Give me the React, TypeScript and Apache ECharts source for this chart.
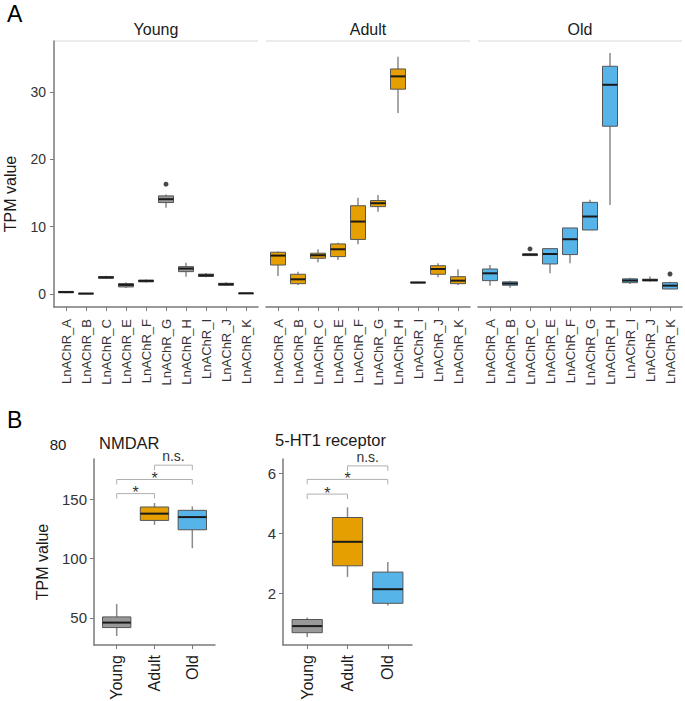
import React, { useEffect, useRef } from "react";
import * as echarts from "echarts";

const geneCats = ["LnAChR_A", "LnAChR_B", "LnAChR_C", "LnAChR_E", "LnAChR_F", "LnAChR_G", "LnAChR_H", "LnAChR_I", "LnAChR_J", "LnAChR_K"];
const ageCats = ["Young", "Adult", "Old"];
const panelTitles = ["Young", "Adult", "Old"];

// [low whisker, Q1, median, Q3, high whisker]
const youngStats = [
  [0.1, 0.2, 0.28, 0.38, 0.45],
  [0, 0.02, 0.06, 0.1, 0.15],
  [2.25, 2.35, 2.45, 2.6, 2.7],
  [0.9, 1.05, 1.35, 1.55, 1.75],
  [1.7, 1.8, 1.95, 2.05, 2.15],
  [12.8, 13.57, 14.07, 14.56, 14.75],
  [2.57, 3.32, 3.77, 4.06, 4.65],
  [2.5, 2.6, 2.77, 2.95, 3.1],
  [1.2, 1.3, 1.44, 1.59, 1.75],
  [0.03, 0.06, 0.1, 0.14, 0.18],
];
const adultStats = [
  [2.67, 4.3, 5.7, 6.2, 6.3],
  [1.34, 1.53, 2.18, 2.93, 3.3],
  [4.7, 5.3, 5.75, 6.05, 6.64],
  [5.05, 5.55, 6.64, 7.43, 7.6],
  [7.4, 8.1, 10.75, 13.1, 14.3],
  [12.2, 12.97, 13.47, 13.87, 14.7],
  [26.85, 30.4, 32.3, 33.4, 35.2],
  [1.6, 1.65, 1.7, 1.75, 1.8],
  [2.48, 2.93, 3.71, 4.2, 4.56],
  [1.34, 1.53, 1.98, 2.57, 3.67],
];
const oldStats = [
  [1.24, 1.98, 3.07, 3.71, 4.3],
  [0.94, 1.3, 1.55, 1.8, 1.98],
  [5.65, 5.7, 5.85, 5.95, 6.0],
  [3.07, 4.46, 5.94, 6.73, 6.8],
  [4.56, 5.85, 8.13, 9.8, 9.8],
  [9.5, 9.5, 11.5, 13.6, 13.97],
  [13.2, 24.9, 31.05, 33.8, 35.76],
  [1.49, 1.68, 2.0, 2.25, 2.4],
  [1.85, 1.95, 2.05, 2.2, 2.6],
  [0.7, 0.74, 1.24, 1.68, 1.83],
];
// outliers: [category index, value]
const youngOutliers = [[5, 16.3]];
const adultOutliers: number[][] = [];
const oldOutliers = [[2, 6.69], [9, 2.97]];

const nmdarStats = [
  [34.7, 41.8, 46, 50.8, 61.6],
  [128.5, 132.2, 137.9, 143.5, 146.9],
  [108.7, 124.3, 135, 140.7, 144],
];
const htStats = [
  [0.55, 0.69, 0.91, 1.13, 1.2],
  [2.55, 2.92, 3.72, 4.53, 4.87],
  [1.6, 1.67, 2.14, 2.71, 3.05],
];
// significance brackets: [from index, to index, y value]
const nmdarSig = [[0, 1, 154.8], [0, 2, 166.7], [1, 2, 178.8]];
const htSig = [[0, 1, 5.31], [0, 2, 5.8], [1, 2, 6.25]];
const sigLabels = ["*", "*", "n.s."];

const yTicksA = [0, 10, 20, 30];
const yTicksNmdar = [50, 100, 150];
const yTicksHt = [2, 4, 6];

const FONT = "Liberation Sans, Arial, Helvetica, sans-serif";
const groupColors = ["#999999", "#E69F00", "#56B4E9"];
const AXIS = "#7a7a7a";

function boxSeries(stats: number[][], xi: number, fill: string | string[]) {
  return {
    type: "custom",
    xAxisIndex: xi,
    yAxisIndex: xi,
    clip: false,
    encode: { x: 0, y: [1, 2, 3, 4, 5] },
    data: stats.map((s, i) => [i, ...s]),
    renderItem: (params: any, api: any) => {
      const x = api.value(0);
      const lo = api.coord([x, api.value(1)]);
      const q1 = api.coord([x, api.value(2)]);
      const md = api.coord([x, api.value(3)]);
      const q3 = api.coord([x, api.value(4)]);
      const hi = api.coord([x, api.value(5)]);
      const w = api.size([0.75, 0])[0];
      const cx = lo[0];
      const f = Array.isArray(fill) ? fill[params.dataIndex] : fill;
      return {
        type: "group",
        children: [
          { type: "line", shape: { x1: cx, y1: hi[1], x2: cx, y2: q3[1] }, style: { stroke: "#8a8a8a", lineWidth: 1.5 } },
          { type: "line", shape: { x1: cx, y1: q1[1], x2: cx, y2: lo[1] }, style: { stroke: "#8a8a8a", lineWidth: 1.5 } },
          { type: "rect", shape: { x: cx - w / 2, y: q3[1], width: w, height: Math.max(q1[1] - q3[1], 0.5) }, style: { fill: f, stroke: "#555555", lineWidth: 1 } },
          { type: "line", shape: { x1: cx - w / 2, y1: md[1], x2: cx + w / 2, y2: md[1] }, style: { stroke: "#1a1a1a", lineWidth: 2 } },
        ],
      };
    },
  };
}

function sigSeries(sig: number[][], xi: number) {
  return {
    type: "custom",
    xAxisIndex: xi,
    yAxisIndex: xi,
    clip: false,
    encode: { x: [0, 1], y: 2 },
    data: sig,
    renderItem: (params: any, api: any) => {
      const a = api.coord([api.value(0), api.value(2)]);
      const b = api.coord([api.value(1), api.value(2)]);
      const label = sigLabels[params.dataIndex];
      const star = label === "*";
      return {
        type: "group",
        children: [
          { type: "polyline", shape: { points: [[a[0], a[1] + 5], [a[0], a[1]], [b[0], b[1]], [b[0], b[1] + 5]] }, style: { stroke: "#b0b0b0", lineWidth: 1, fill: "none" } },
          {
            type: "text",
            x: (a[0] + b[0]) / 2,
            y: star ? a[1] - 1 : a[1] - 2,
            style: { text: label, fill: "#333333", font: `${star ? 16 : 14}px ${FONT}`, textAlign: "center", textVerticalAlign: star ? "middle" : "bottom" },
          },
        ],
      };
    },
  };
}

function outlierSeries(pts: number[][], xi: number) {
  return {
    type: "scatter",
    xAxisIndex: xi,
    yAxisIndex: xi,
    symbolSize: 5,
    itemStyle: { color: "#1a1a1a" },
    data: pts,
  };
}

export default function App() {
  const ref = useRef<HTMLDivElement>(null);
  useEffect(() => {
    document.body.style.margin = "0";
    if (!ref.current) return;
    const chart = echarts.init(ref.current, null, { renderer: "svg" });

    const gridsA = [54, 266, 478].map((left) => ({ left, top: 41, width: 204, height: 266, outerBoundsMode: "none", containLabel: false }));
    const gridsB = [
      { left: 94, top: 459, width: 121, height: 186, outerBoundsMode: "none", containLabel: false },
      { left: 283, top: 459, width: 129, height: 186, outerBoundsMode: "none", containLabel: false },
    ];

    const geneIdx = geneCats.map((_, i) => i);
    const ageIdx = ageCats.map((_, i) => i);

    const xA = [0, 1, 2].map((g) => ({
      type: "value",
      gridIndex: g,
      min: -0.6,
      max: geneCats.length - 0.4,
      splitLine: { show: false },
      axisLine: { show: true, onZero: false, lineStyle: { color: AXIS, width: 1.5 } },
      axisTick: { show: true, customValues: geneIdx, length: 4, lineStyle: { color: AXIS, width: 1 } },
      axisLabel: {
        customValues: geneIdx,
        rotate: 90,
        margin: 12,
        fontSize: 13,
        fontFamily: FONT,
        color: "#333333",
        formatter: (v: number) => geneCats[Math.round(v)],
      },
    }));
    const xB = [3, 4].map((g) => ({
      type: "value",
      gridIndex: g,
      min: -0.6,
      max: ageCats.length - 0.4,
      splitLine: { show: false },
      axisLine: { show: true, onZero: false, lineStyle: { color: AXIS, width: 1.5 } },
      axisTick: { show: true, customValues: ageIdx, length: 4, lineStyle: { color: AXIS, width: 1 } },
      axisLabel: {
        customValues: ageIdx,
        rotate: 90,
        margin: 10,
        fontSize: 16,
        fontFamily: FONT,
        color: "#1a1a1a",
        formatter: (v: number) => ageCats[Math.round(v)],
      },
    }));

    const yA = [0, 1, 2].map((g) => ({
      type: "value",
      gridIndex: g,
      min: -1.93,
      max: 37.55,
      show: g === 0,
      splitLine: { show: false },
      axisLine: { show: true, onZero: false, lineStyle: { color: AXIS, width: 1.5 } },
      axisTick: { show: true, customValues: yTicksA, length: 4, lineStyle: { color: AXIS, width: 1 } },
      axisLabel: { customValues: yTicksA, margin: 8, fontSize: 14, fontFamily: FONT, color: "#333333" },
    }));
    const yB = [
      { min: 27.1, max: 184, ticks: yTicksNmdar, g: 3 },
      { min: 0.28, max: 6.48, ticks: yTicksHt, g: 4 },
    ].map((c) => ({
      type: "value",
      gridIndex: c.g,
      min: c.min,
      max: c.max,
      splitLine: { show: false },
      axisLine: { show: true, onZero: false, lineStyle: { color: AXIS, width: 1.5 } },
      axisTick: { show: true, customValues: c.ticks, length: 4, lineStyle: { color: AXIS, width: 1 } },
      axisLabel: { customValues: c.ticks, margin: 7, fontSize: 15, fontFamily: FONT, color: "#333333" },
    }));

    const stripCenters = [54 + 102, 266 + 102, 478 + 102];
    const graphic: any[] = [
      { type: "text", x: 7, y: 14, style: { text: "A", font: `23px ${FONT}`, fill: "#000", textVerticalAlign: "middle" } },
      { type: "text", x: 7, y: 420, style: { text: "B", font: `23px ${FONT}`, fill: "#000", textVerticalAlign: "middle" } },
      ...panelTitles.map((t, i) => ({
        type: "text",
        x: stripCenters[i],
        y: 29,
        style: { text: t, font: `16px ${FONT}`, fill: "#1a1a1a", textAlign: "center", textVerticalAlign: "middle" },
      })),
      ...[54, 266, 478].map((l) => ({ type: "line", shape: { x1: l, y1: 41, x2: l + 204, y2: 41 }, style: { stroke: "#e6e6e6", lineWidth: 1.5 } })),
      { type: "text", x: 10, y: 194, rotation: Math.PI / 2, style: { text: "TPM value", font: `16px ${FONT}`, fill: "#1a1a1a", textAlign: "center", textVerticalAlign: "middle" } },
      { type: "text", x: 42, y: 562, rotation: Math.PI / 2, style: { text: "TPM value", font: `16px ${FONT}`, fill: "#1a1a1a", textAlign: "center", textVerticalAlign: "middle" } },
      { type: "text", x: 58, y: 444, style: { text: "80", font: `15px ${FONT}`, fill: "#1a1a1a", textAlign: "center", textVerticalAlign: "middle" } },
      { type: "text", x: 99, y: 443, style: { text: "NMDAR", font: `16.5px ${FONT}`, fill: "#1a1a1a", textVerticalAlign: "middle" } },
      { type: "text", x: 275, y: 440, style: { text: "5-HT1 receptor", font: `16.5px ${FONT}`, fill: "#1a1a1a", textVerticalAlign: "middle" } },
    ];

    chart.setOption({
      animation: false,
      grid: [...gridsA, ...gridsB],
      xAxis: [...xA, ...xB],
      yAxis: [...yA, ...yB],
      graphic,
      series: [
        boxSeries(youngStats, 0, groupColors[0]),
        boxSeries(adultStats, 1, groupColors[1]),
        boxSeries(oldStats, 2, groupColors[2]),
        outlierSeries(youngOutliers, 0),
        outlierSeries(adultOutliers, 1),
        outlierSeries(oldOutliers, 2),
        boxSeries(nmdarStats, 3, groupColors),
        boxSeries(htStats, 4, groupColors),
        sigSeries(nmdarSig, 3),
        sigSeries(htSig, 4),
      ],
    });
    return () => chart.dispose();
  }, []);
  return <div ref={ref} style={{ width: 685, height: 701, background: "#fff" }} />;
}
